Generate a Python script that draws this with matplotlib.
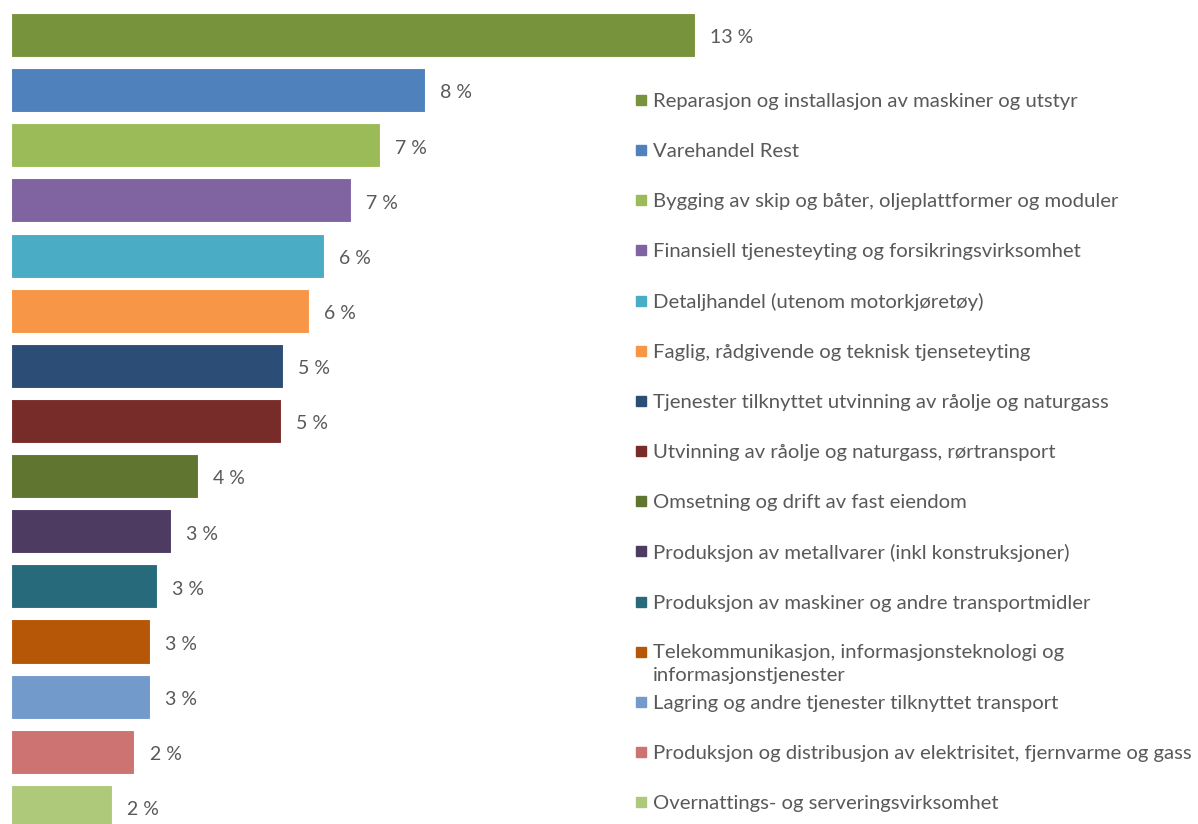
import matplotlib
matplotlib.use("Agg")
import matplotlib.pyplot as plt
import matplotlib.patches as patches

plt.rcParams['font.family'] = ['Lato', 'DejaVu Sans']

# data, top to bottom
categories = [
    "Reparasjon og installasjon av maskiner og utstyr",
    "Varehandel Rest",
    "Bygging av skip og båter, oljeplattformer og moduler",
    "Finansiell tjenesteyting og forsikringsvirksomhet",
    "Detaljhandel (utenom motorkjøretøy)",
    "Faglig, rådgivende og teknisk tjenseteyting",
    "Tjenester tilknyttet utvinning av råolje og naturgass",
    "Utvinning av råolje og naturgass, rørtransport",
    "Omsetning og drift av fast eiendom",
    "Produksjon av metallvarer (inkl konstruksjoner)",
    "Produksjon av maskiner og andre transportmidler",
    "Telekommunikasjon, informasjonsteknologi og\ninformasjonstjenester",
    "Lagring og andre tjenester tilknyttet transport",
    "Produksjon og distribusjon av elektrisitet, fjernvarme og gass",
    "Overnattings- og serveringsvirksomhet",
]
values = [13.15, 7.96, 7.10, 6.54, 6.02, 5.73, 5.23, 5.19, 3.60, 3.08, 2.81, 2.67, 2.67, 2.37, 1.94]
colors = ['#77933C', '#4F81BD', '#9BBB59', '#8064A2', '#4BACC6', '#F79646', '#2C4D75',
          '#772C2A', '#5F7530', '#4D3B62', '#276A7C', '#B65708', '#729ACA', '#CD7371', '#AFC97A']

W, H = 1198, 824
fig = plt.figure(figsize=(W / 100, H / 100), dpi=100)

# axes spans from bar start to right edge; 52 px per percent
left_px = 11
ax = fig.add_axes([left_px / W, 0, 1 - left_px / W, 1])
ax.set_xlim(0, (W - left_px) / 52.0)
step = 55.14
ax.set_ylim((H - 35) / step, -35 / step)
ax.axis('off')

ys = list(range(len(values)))
ax.barh(ys, values, height=0.8, color=colors, edgecolor='white', linewidth=0.8)
for y, v in zip(ys, values):
    ax.annotate(f"{round(v)} %", (v, y), xytext=(11, -2), textcoords='offset points',
                va='center', ha='left', fontsize=14, color='#595959')

# legend on the right
leg_y0, leg_step = 100, 50.15
for i, (name, c) in enumerate(zip(categories, colors)):
    yp = leg_y0 + leg_step * i
    fig.add_artist(patches.Rectangle((636 / W, 1 - (yp + 5) / H), 10 / W, 10 / H,
                                     transform=fig.transFigure, color=c))
    txt_y = yp + 1.5
    va = 'center'
    if '\n' in name:
        txt_y = yp - 8
        va = 'top'
    fig.text(653 / W, 1 - txt_y / H, name, ha='left', va=va, fontsize=14.6,
             color='#595959', linespacing=1.45)

fig.savefig("out.png", dpi=100)
